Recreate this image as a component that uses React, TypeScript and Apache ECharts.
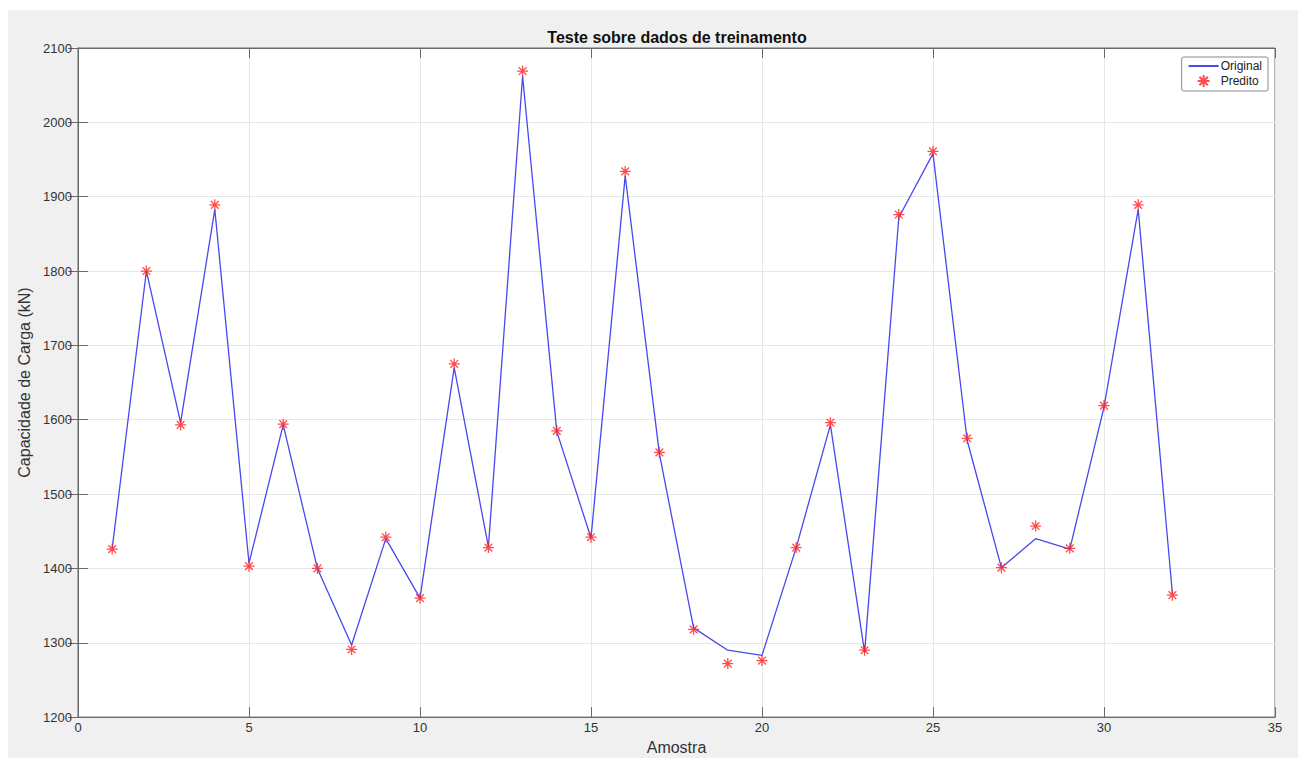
import React, { useEffect, useRef } from "react";
import * as echarts from "echarts";

const samples = [1, 2, 3, 4, 5, 6, 7, 8, 9, 10, 11, 12, 13, 14, 15, 16, 17, 18, 19, 20, 21, 22, 23, 24, 25, 26, 27, 28, 29, 30, 31, 32];
const original = [1427, 1800, 1596, 1883, 1407, 1593, 1400, 1297, 1440, 1360, 1670, 1429, 2062, 1584, 1441, 1928, 1554, 1320, 1290, 1283, 1428, 1593, 1287, 1872, 1958, 1572, 1401, 1440, 1426, 1617, 1883, 1366];
const predicted = [1426, 1800, 1593, 1889, 1403, 1594, 1400, 1291, 1442, 1360, 1675, 1428, 2069, 1585, 1442, 1934, 1556, 1318, 1272, 1276, 1428, 1596, 1290, 1876, 1961, 1575, 1401, 1457, 1427, 1619, 1889, 1364];

const titleText = "Teste sobre dados de treinamento";
const xName = "Amostra";
const yName = "Capacidade de Carga (kN)";
const seriesNames = ["Original", "Predito"];

const FONT = "'Liberation Sans', Arial, Helvetica, sans-serif";
const asterisk = "path://M5,0L5,10M0,5L10,5M1.5,1.5L8.5,8.5M1.5,8.5L8.5,1.5";

export default function App() {
  const ref = useRef<HTMLDivElement>(null);
  useEffect(() => {
    if (!ref.current) return;
    const chart = echarts.init(ref.current, null, { renderer: "svg" });
    const axisLineColor = "#6a6a6a";
    const lineColor = "#4848f0";
    const baseX = {
      type: "value",
      min: 0,
      max: 35,
      interval: 5,
    };
    const baseY = {
      type: "value",
      min: 1200,
      max: 2100,
      interval: 100,
    };
    chart.setOption({
      animation: false,
      backgroundColor: "transparent",
      textStyle: { fontFamily: FONT },
      title: {
        text: titleText,
        left: 677,
        top: 29,
        textAlign: "center",
        padding: 0,
        textStyle: { fontSize: 16, fontWeight: "bold", color: "#111", fontFamily: FONT },
      },
      legend: {
        data: [
          { name: seriesNames[0], itemStyle: { color: "rgba(0,0,0,0)", borderWidth: 0, opacity: 0 } },
          { name: seriesNames[1] },
        ],
        orient: "vertical",
        right: 32,
        top: 57,
        padding: [3, 6, 3, 6],
        itemGap: 2,
        itemWidth: 30,
        itemHeight: 12,
        borderColor: "#888",
        borderWidth: 1,
        borderRadius: 2,
        backgroundColor: "#fff",
        textStyle: { fontSize: 12, color: "#222", fontFamily: FONT, padding: [0, 0, 0, -3] },
      },
      grid: {
        left: 78,
        right: 25,
        top: 48,
        bottom: 41,
        show: true,
        backgroundColor: "#ffffff",
        borderColor: axisLineColor,
        borderWidth: 1,
      },
      xAxis: [
        {
          ...baseX,
          position: "bottom",
          name: xName,
          nameLocation: "middle",
          nameGap: 16,
          nameTextStyle: { fontSize: 16, color: "#333", fontFamily: FONT },
          axisLine: { show: true, lineStyle: { color: axisLineColor, width: 1 } },
          axisTick: { show: true, inside: true, length: 10, lineStyle: { color: axisLineColor } },
          axisLabel: { show: true, margin: 4, fontSize: 13, color: "#333", fontFamily: FONT },
          splitLine: { show: true, lineStyle: { color: "#e6e6e6", width: 1 } },
        },
        {
          ...baseX,
          position: "top",
          axisLine: { show: true, lineStyle: { color: axisLineColor, width: 1 } },
          axisTick: { show: true, inside: true, length: 10, lineStyle: { color: axisLineColor } },
          axisLabel: { show: false },
          splitLine: { show: false },
        },
      ],
      yAxis: [
        {
          ...baseY,
          position: "left",
          name: yName,
          nameLocation: "middle",
          nameGap: 31,
          nameRotate: 90,
          nameTextStyle: { fontSize: 16, color: "#333", fontFamily: FONT },
          axisLine: { show: true, lineStyle: { color: axisLineColor, width: 1 } },
          axisTick: { show: true, inside: true, length: 10, lineStyle: { color: axisLineColor } },
          axisLabel: {
            show: true,
            margin: 6,
            fontSize: 13,
            color: "#333",
            fontFamily: FONT,
            formatter: (v: number) => String(v),
          },
          splitLine: { show: true, lineStyle: { color: "#e6e6e6", width: 1 } },
        },
        {
          ...baseY,
          position: "right",
          axisLine: { show: true, lineStyle: { color: axisLineColor, width: 1 } },
          axisTick: { show: true, inside: true, length: 10, lineStyle: { color: axisLineColor } },
          axisLabel: { show: false },
          splitLine: { show: false },
        },
      ],
      series: [
        {
          name: seriesNames[0],
          type: "line",
          xAxisIndex: 0,
          yAxisIndex: 0,
          data: samples.map((s, i) => [s, original[i]]),
          symbol: "none",
          lineStyle: { color: lineColor, width: 1.3 },
          itemStyle: { color: lineColor },
          z: 2,
        },
        {
          name: seriesNames[1],
          type: "scatter",
          xAxisIndex: 0,
          yAxisIndex: 0,
          data: samples.map((s, i) => [s, predicted[i]]),
          symbol: asterisk,
          symbolSize: 11,
          itemStyle: { color: "rgba(0,0,0,0)", borderColor: "#ff2020", borderWidth: 1.3 },
          z: 3,
        },
      ],
    });
    return () => chart.dispose();
  }, []);

  return (
    <div style={{ position: "fixed", left: 0, top: 0, width: 1300, height: 760, background: "#ffffff" }}>
      <div style={{ position: "absolute", left: 8, top: 10, width: 1290, height: 748, background: "#f0f0f0" }} />
      <div ref={ref} style={{ position: "absolute", left: 0, top: 0, width: 1300, height: 760 }} />
    </div>
  );
}
